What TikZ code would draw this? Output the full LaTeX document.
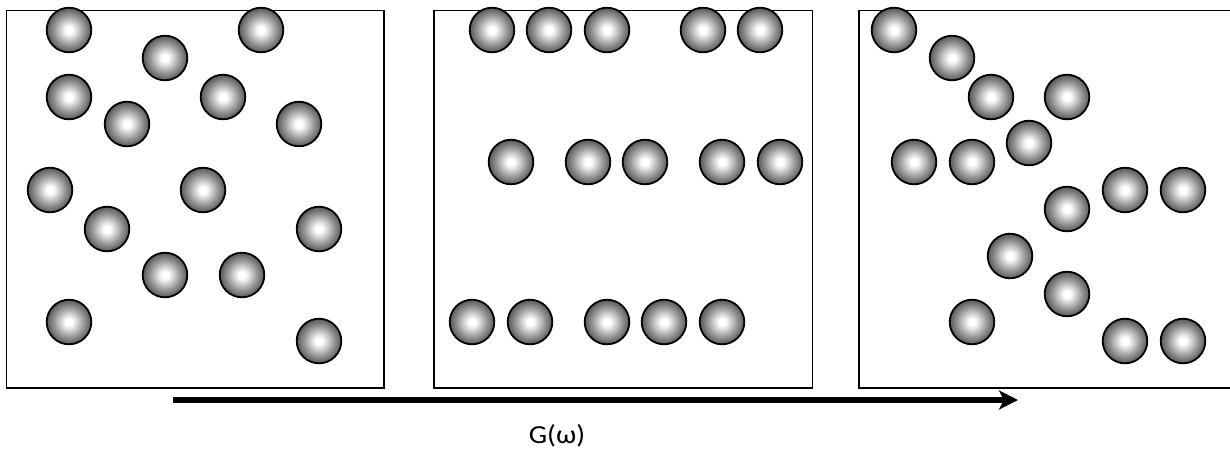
\documentclass[tikz,border=0pt]{standalone}
\usepackage{fontspec}
\setmainfont{Carlito}
\newfontfamily\capfont[FakeStretch=1.12]{Carlito}
\usetikzlibrary{arrows.meta}

% caption face and size
\newcommand{\capsize}{\capfont\fontsize{26pt}{30pt}\selectfont}

% shaded sphere: white core fading to dark grey at the rim
\pgfdeclareradialshading{sphere}{\pgfpoint{0bp}{0bp}}{%
  color(0bp)=(white);
  color(4bp)=(white);
  color(17bp)=(black!42);
  color(28bp)=(black!74);
  color(35.4bp)=(black!92);
  color(50bp)=(black!92)}

\tikzset{
  x=1pt, y=-1pt,
  ball/.style={circle, draw=black, line width=1.8pt, minimum size=44.6pt,
               inner sep=0pt, shading=sphere},
  frame/.style={draw=black, line width=1.7pt, fill=none},
  flow/.style={line width=6.5pt, -{Stealth[length=19pt,width=19pt,inset=5pt]}},
  caption/.style={font=\capsize, inner sep=0pt, anchor=base}
}

\begin{document}
\begin{tikzpicture}
\useasboundingbox (0,0) rectangle (1230,459);
\clip (0,0) rectangle (1230,459);

% three containers
\draw[frame] (6.5,10.5) rectangle (384,388);
\draw[frame] (434,10.5) rectangle (812.5,388);
\draw[frame] (859,10.5) rectangle (1237,388);

% disordered arrangement
\foreach \px/\py [count=\i] in {69/30, 165/58, 261/30, 69/97, 127/124, 223/97,
    299/124, 50/190, 203/190, 107/229, 319/229, 165/275, 242/275, 69/322, 319/341}
  \node[ball] (a\i) at (\px,\py) {};

% layered arrangement
\foreach \px/\py [count=\i] in {492/30, 549/30, 607/30, 703/30, 760/30,
    511/162, 588/162, 645/162, 722/162, 780/162,
    472/322, 530/322, 607/322, 664/322, 722/322}
  \node[ball] (b\i) at (\px,\py) {};

% branched arrangement
\foreach \px/\py [count=\i] in {894/30, 952/58, 991/97, 1067/97, 1029/143,
    914/162, 972/162, 1125/190, 1183/190, 1067/209, 1010/256, 1067/294,
    972/322, 1125/341, 1183/341}
  \node[ball] (c\i) at (\px,\py) {};

% direction of change
\coordinate (s) at (173,400);
\coordinate (e) at (1018,400);
\draw[flow] (s) -- (e);
\node[caption] (g) at (557,443) {G(ω)};
\end{tikzpicture}
\end{document}
